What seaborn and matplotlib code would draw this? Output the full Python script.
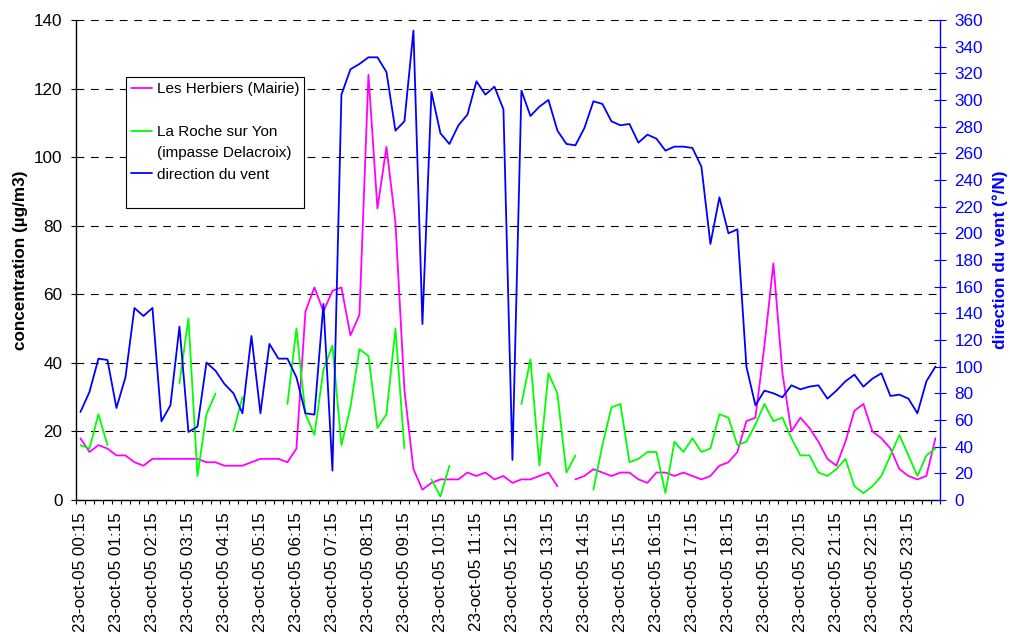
import numpy as np
import pandas as pd
import matplotlib
matplotlib.use("Agg")
import matplotlib.pyplot as plt
from matplotlib.lines import Line2D
import seaborn as sns

sns.set_style("ticks", {"axes.edgecolor": "black", "text.color": "black",
                        "xtick.color": "black", "ytick.color": "black",
                        "axes.labelcolor": "black"})
plt.rcParams["font.family"] = ["Liberation Sans", "DejaVu Sans"]

nan = np.nan

# quarter-hour labels, one shown per hour
tick_labels = [
    "23-oct-05 00:15", "23-oct-05 01:15", "23-oct-05 02:15", "23-oct-05 03:15",
    "23-oct-05 04:15", "23-oct-05 05:15", "23-oct-05 06:15", "23-oct-05 07:15",
    "23-oct-05 08:15", "23-oct-05 09:15", "23-oct-05 10:15", "23-oct-05 11:15",
    "23-oct-05 12:15", "23-oct-05 13:15", "23-oct-05 14:15", "23-oct-05 15:15",
    "23-oct-05 16:15", "23-oct-05 17:15", "23-oct-05 18:15", "23-oct-05 19:15",
    "23-oct-05 20:15", "23-oct-05 21:15", "23-oct-05 22:15", "23-oct-05 23:15",
]

# concentration (µg/m3), Les Herbiers (Mairie)
herbiers = [
    18, 14, 16, 15, 13, 13, 11, 10, 12, 12, 12, 12, 12, 12, 11, 11,
    10, 10, 10, 11, 12, 12, 12, 11, 15, 55, 62, 55, 61, 62, 48, 54,
    124, 85, 103, 81, 32, 9, 3, 5, 6, 6, 6, 8, 7, 8, 6, 7,
    5, 6, 6, 7, 8, 4, nan, 6, 7, 9, 8, 7, 8, 8, 6, 5,
    8, 8, 7, 8, 7, 6, 7, 10, 11, 14, 23, 24, 45, 69, 37, 20,
    24, 21, 17, 12, 10, 17, 26, 28, 20, 18, 15, 9, 7, 6, 7, 18,
]

# concentration (µg/m3), La Roche sur Yon (impasse Delacroix)
roche = [
    16, 15, 25, 16, nan, nan, nan, nan, nan, nan, nan, 34, 53, 7, 25, 31,
    nan, 20, 30, nan, nan, nan, nan, 28, 50, 25, 19, 38, 45, 16, 27, 44,
    42, 21, 25, 50, 15, nan, nan, 6, 1, 10, nan, nan, nan, nan, nan, nan,
    nan, 28, 41, 10, 37, 31, 8, 13, nan, 3, 16, 27, 28, 11, 12, 14,
    14, 2, 17, 14, 18, 14, 15, 25, 24, 16, 17, 22, 28, 23, 24, 18,
    13, 13, 8, 7, 9, 12, 4, 2, 4, 7, 13, 19, 13, 7, 13, 15,
]

# wind direction (°/N)
vent = [
    66, 81, 106, 105, 69, 92, 144, 138, 144, 59, 71, 130, 51, 55, 103, 97,
    87, 80, 65, 123, 65, 117, 106, 106, 92, 65, 64, 147, 22, 304, 323, 327,
    332, 332, 321, 277, 284, 352, 132, 306, 275, 267, 281, 289, 314, 304, 310, 293,
    30, 307, 288, 295, 300, 277, 267, 266, 279, 299, 297, 284, 281, 282, 268, 274,
    271, 262, 265, 265, 264, 250, 192, 227, 200, 203, 100, 71, 82, 80, 77, 86,
    83, 85, 86, 76, 82, 89, 94, 85, 91, 95, 78, 79, 76, 65, 89, 100,
]


def to_frame(values):
    """Long frame with a segment id so missing readings break the line."""
    v = np.asarray(values, dtype=float)
    valid = ~np.isnan(v)
    starts = valid & np.r_[True, ~valid[:-1]]
    seg = np.cumsum(starts)
    df = pd.DataFrame({"t": np.arange(len(v)), "val": v, "seg": seg})
    return df[valid]


MAGENTA, GREEN, BLUE = "#FF00FF", "#00FF00", "#0000FF"
LW = 1.3

fig = plt.figure(figsize=(10.1, 6.34), dpi=100)
ax = fig.add_axes([0.0752, 0.2114, 0.8554, 0.7571])
ax2 = ax.twinx()

sns.lineplot(data=to_frame(herbiers), x="t", y="val", units="seg", estimator=None,
             color=MAGENTA, lw=LW, ax=ax, legend=False)
sns.lineplot(data=to_frame(roche), x="t", y="val", units="seg", estimator=None,
             color=GREEN, lw=LW, ax=ax, legend=False)
sns.lineplot(data=to_frame(vent), x="t", y="val", units="seg", estimator=None,
             color=BLUE, lw=LW, ax=ax2, legend=False)

n = len(vent)
ax.set_xlim(-0.5, n - 0.5)
ax.set_ylim(0, 140)
ax2.set_ylim(0, 360)

ax.set_yticks(range(0, 141, 20))
ax2.set_yticks(range(0, 361, 20))
ax.set_xticks(range(0, n, 4))
ax.set_xticklabels(tick_labels, rotation=90)
ax.set_xticks(np.arange(-0.5, n, 1), minor=True)

ax.tick_params(axis="x", which="major", length=0, pad=9, labelsize=12.3)
ax.tick_params(axis="x", which="minor", length=3, width=0.8, direction="out")
ax.tick_params(axis="y", length=3.6, width=0.8, direction="out", labelsize=12.3, pad=6)
ax2.tick_params(axis="y", length=8, width=0.8, direction="inout", colors=BLUE,
                labelsize=12.3, pad=6.5)

for s in ("top", "right"):
    ax.spines[s].set_visible(False)
for s in ("top", "left", "bottom"):
    ax2.spines[s].set_visible(False)
ax.spines["left"].set_linewidth(1.0)
ax.spines["bottom"].set_linewidth(1.0)
ax2.spines["right"].set_color(BLUE)
ax2.spines["right"].set_linewidth(1.0)

ax.grid(axis="y", color="black", linestyle=(0, (7, 6)), lw=0.8)
ax.grid(axis="x", visible=False)
ax.set_axisbelow(True)

ax.set_xlabel("")
ax.set_ylabel("concentration (µg/m3)", fontsize=12.3, fontweight="bold")
ax.yaxis.set_label_coords(-0.056, 0.5)
ax2.set_ylabel("direction du vent (°/N)", fontsize=12.3, fontweight="bold", color=BLUE)
ax2.yaxis.set_label_coords(1.061, 0.5)

blank = Line2D([], [], linestyle="none")
handles = [Line2D([], [], color=MAGENTA, lw=LW), blank,
           Line2D([], [], color=GREEN, lw=LW), blank,
           Line2D([], [], color=BLUE, lw=LW), blank]
labels = ["Les Herbiers (Mairie)", " ", "La Roche sur Yon", "(impasse Delacroix)",
          "direction du vent", " "]
leg = ax2.legend(handles, labels, loc="upper left", bbox_to_anchor=(0.058, 0.881),
                 fontsize=11, frameon=True, fancybox=False, edgecolor="black",
                 framealpha=1, borderpad=0.35, labelspacing=0.48, handlelength=1.35,
                 handletextpad=0.3, borderaxespad=0)
leg.get_frame().set_linewidth(0.8)

fig.savefig("out.png", dpi=100)
